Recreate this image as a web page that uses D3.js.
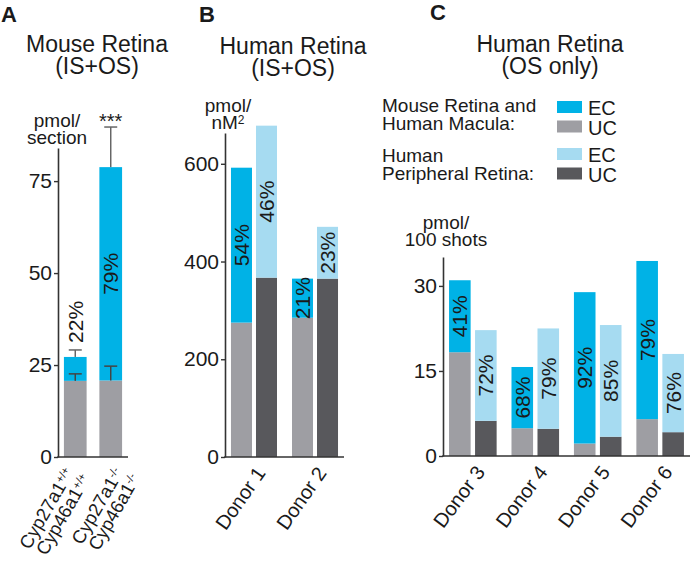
<!DOCTYPE html>
<html><head><meta charset="utf-8">
<script src="https://cdn.jsdelivr.net/npm/d3@7"></script>
<style>
body{margin:0;background:#fff}
svg text{font-family:"Liberation Sans",Arial,Helvetica,sans-serif;fill:#1a1a1a}
</style>
</head><body>
<svg id="c" width="693" height="563"></svg>
<script>
// ---------- Data ----------
// Panel A: Mouse Retina (IS+OS), pmol/section
const aGeneLine1 = ["Cyp27a1", "Cyp27a1"];
const aGeneLine2 = ["Cyp46a1", "Cyp46a1"];
const aGenotype = ["+/+", "-/-"];
const aUC = [20.7, 20.8];
const aTotal = [27.2, 78.8];
const aUCerr = [1.9, 3.9];
const aTotalErr = [1.9, 10.9];
const aPct = ["22%", "79%"];
const aTicks = [0, 25, 50, 75];

// Panel B: Human Retina (IS+OS), pmol/nM2
const bDonors = ["Donor 1", "Donor 2"];
const bMacTotal = [592, 365];
const bMacUC = [275, 285];
const bPerTotal = [678, 471];
const bPerUC = [367, 365];
const bMacPct = ["54%", "21%"];
const bPerPct = ["46%", "23%"];
const bTicks = [0, 200, 400, 600];

// Panel C: Human Retina (OS only), pmol/100 shots
const cDonors = ["Donor 3", "Donor 4", "Donor 5", "Donor 6"];
const cMacTotal = [31.0, 15.7, 28.9, 34.4];
const cMacUC = [18.3, 4.9, 2.2, 6.5];
const cPerTotal = [22.2, 22.5, 23.1, 18.0];
const cPerUC = [6.2, 4.8, 3.4, 4.2];
const cMacPct = ["41%", "68%", "92%", "79%"];
const cPerPct = ["72%", "79%", "85%", "76%"];
const cTicks = [0, 15, 30];

const legendGroups = ["Mouse Retina and|Human Macula:", "Human|Peripheral Retina:"];
const legendKeys = ["EC", "UC"];

// ---------- Style ----------
const COL = {ecMac: "#00b2e6", ucMac: "#9e9ea3", ecPer: "#a6dbf1", ucPer: "#58585c"};
const AXIS = "#333";

const svg = d3.select("#c");

function yAxis(x, scale, ticks) {
  const g = svg.append("g").attr("transform", `translate(${x},0)`)
    .call(d3.axisLeft(scale).tickValues(ticks).tickSize(4).tickSizeOuter(0).tickPadding(2));
  g.attr("font-family", null).attr("font-size", null);
  g.select(".domain").attr("stroke", AXIS).attr("stroke-width", 1.6);
  g.selectAll(".tick line").attr("stroke", AXIS).attr("stroke-width", 1.4);
  g.selectAll(".tick text").style("font-size", "21px").attr("fill", "#1a1a1a");
  return g;
}
function xBase(x0, x1, y) {
  svg.append("line").attr("x1", x0 - 0.8).attr("x2", x1).attr("y1", y).attr("y2", y)
    .attr("stroke", AXIS).attr("stroke-width", 1.6);
}
function stack(x, w, y, uc, total, ecC, ucC) {
  svg.append("rect").attr("x", x).attr("width", w).attr("y", y(uc)).attr("height", y(0) - y(uc)).attr("fill", ucC);
  svg.append("rect").attr("x", x).attr("width", w).attr("y", y(total)).attr("height", y(uc) - y(total)).attr("fill", ecC);
}
function pctLabel(cx, y, uc, total, txt, aboveY) {
  const top = y(total), bot = y(uc);
  const t = svg.append("text").text(txt).style("font-size", "21px");
  if (aboveY !== undefined) {
    t.attr("text-anchor", "start").attr("dominant-baseline", "central")
      .attr("transform", `translate(${cx},${aboveY - 7}) rotate(-90)`);
  } else {
    t.attr("text-anchor", "middle").attr("dominant-baseline", "central")
      .attr("transform", `translate(${cx},${(top + bot) / 2}) rotate(-90)`);
  }
}
function title(cx, y, lines, size) {
  lines.forEach((l, i) => svg.append("text").attr("x", cx).attr("y", y + i * 21.5)
    .attr("text-anchor", "middle").style("font-size", size + "px").text(l));
}
function unit(cx, y, lines) {
  lines.forEach((l, i) => {
    const t = svg.append("text").attr("x", cx).attr("y", y + i * 17).attr("text-anchor", "middle").style("font-size", "19px");
    if (l === "nM2") { t.text("nM"); t.append("tspan").attr("dy", "-0.45em").style("font-size", "12px").text("2"); }
    else t.text(l);
  });
}
function letter(x, y, s) {
  svg.append("text").attr("x", x).attr("y", y).style("font-size", "22px").style("font-weight", "bold").attr("fill", "#000").text(s);
}

// ---------- Panel A ----------
letter(1, 22, "A");
title(97, 52, ["Mouse Retina", "(IS+OS)"], 23);
unit(57, 127, ["pmol/", "section"]);
const ax = d3.scaleBand().domain(d3.range(aTotal.length)).range([58, 128]).paddingInner(0.36).paddingOuter(0.167);
const ay = d3.scaleLinear().domain([0, 84]).range([457, 148]);
aTotal.forEach((tot, i) => {
  const x = ax(i), w = ax.bandwidth(), cx = x + w / 2;
  stack(x, w, ay, aUC[i], tot, COL.ecMac, COL.ucMac);
  // error bars
  [[aUC[i], aUCerr[i], "#444"], [tot, aTotalErr[i], "#666"]].forEach(([v, e, c]) => {
    svg.append("line").attr("x1", cx).attr("x2", cx).attr("y1", ay(v)).attr("y2", ay(v + e)).attr("stroke", c).attr("stroke-width", 1.5);
    svg.append("line").attr("x1", cx - 6.5).attr("x2", cx + 6.5).attr("y1", ay(v + e)).attr("y2", ay(v + e)).attr("stroke", c).attr("stroke-width", 1.5);
  });
  const small = ay(aUC[i]) - ay(tot) < 30;
  pctLabel(cx, ay, aUC[i], tot, aPct[i], small ? ay(tot + aTotalErr[i]) : undefined);
});
// significance
svg.append("text").attr("x", ax(1) + ax.bandwidth() / 2).attr("y", ay(aTotal[1] + aTotalErr[1]) + 1)
  .attr("text-anchor", "middle").style("font-size", "20px").text("***");
yAxis(58, ay, aTicks);
xBase(58, 128, ay(0));
aGeneLine1.forEach((l1, i) => {
  const cx = ax(i) + ax.bandwidth() / 2;
  const g = svg.append("g").attr("transform", `translate(${cx - 12 + i * 14},${ay(0) + 9}) rotate(-60)`);
  [l1, aGeneLine2[i]].forEach((l, j) => {
    const t = g.append("text").attr("x", j * 3).attr("y", 13 + j * 17.5).attr("text-anchor", "end").style("font-size", "18.5px").text(l);
    t.append("tspan").attr("dy", "-0.5em").style("font-size", "11px").text(aGenotype[i]);
  });
});

// ---------- Panel B ----------
letter(199, 22, "B");
title(293, 54, ["Human Retina", "(IS+OS)"], 23);
unit(228, 112, ["pmol/", "nM2"]);
const bx = d3.scaleBand().domain(bDonors).range([225, 344]).paddingInner(0.246).paddingOuter(0.098);
const bsub = d3.scaleBand().domain(["mac", "per"]).range([0, bx.bandwidth()]).paddingInner(0.16);
const by = d3.scaleLinear().domain([0, 663]).range([457, 133]);
bDonors.forEach((d, i) => {
  const xm = bx(d) + bsub("mac"), xp = bx(d) + bsub("per"), w = bsub.bandwidth();
  stack(xm, w, by, bMacUC[i], bMacTotal[i], COL.ecMac, COL.ucMac);
  stack(xp, w, by, bPerUC[i], bPerTotal[i], COL.ecPer, COL.ucPer);
  pctLabel(xm + w / 2, by, bMacUC[i], bMacTotal[i], bMacPct[i]);
  pctLabel(xp + w / 2, by, bPerUC[i], bPerTotal[i], bPerPct[i]);
  svg.append("g").attr("transform", `translate(${bx(d) + bx.bandwidth() / 2 + 1},${by(0) + 8}) rotate(-55)`)
    .append("text").attr("y", 14).attr("text-anchor", "end").style("font-size", "20px").text(d);
});
yAxis(225, by, bTicks);
xBase(225, 344, by(0));

// ---------- Panel C ----------
letter(430, 20, "C");
title(550, 52, ["Human Retina", "(OS only)"], 23);
// legend
legendGroups.forEach((grp, gi) => {
  grp.split("|").forEach((l, li) => svg.append("text").attr("x", 382).attr("y", 112 + gi * 50 + li * 18)
    .style("font-size", "19px").text(l));
  legendKeys.forEach((k, ki) => {
    const c = gi === 0 ? (ki === 0 ? COL.ecMac : COL.ucMac) : (ki === 0 ? COL.ecPer : COL.ucPer);
    const yy = 101 + gi * 47 + ki * 19.5;
    svg.append("rect").attr("x", 557).attr("y", yy).attr("width", 25).attr("height", 12).attr("fill", c);
    svg.append("text").attr("x", 588).attr("y", yy + 14).style("font-size", "20px").text(k);
  });
});
unit(446, 229, ["pmol/", "100 shots"]);
const cx_ = d3.scaleBand().domain(cDonors).range([443, 690]).paddingInner(0.238).paddingOuter(0.097);
const csub = d3.scaleBand().domain(["mac", "per"]).range([0, cx_.bandwidth()]).paddingInner(0.17);
const cy = d3.scaleLinear().domain([0, 35.1]).range([456, 257]);
cDonors.forEach((d, i) => {
  const xm = cx_(d) + csub("mac"), xp = cx_(d) + csub("per"), w = csub.bandwidth();
  stack(xm, w, cy, cMacUC[i], cMacTotal[i], COL.ecMac, COL.ucMac);
  stack(xp, w, cy, cPerUC[i], cPerTotal[i], COL.ecPer, COL.ucPer);
  pctLabel(xm + w / 2, cy, cMacUC[i], cMacTotal[i], cMacPct[i]);
  pctLabel(xp + w / 2, cy, cPerUC[i], cPerTotal[i], cPerPct[i]);
  svg.append("g").attr("transform", `translate(${cx_(d) + cx_.bandwidth() / 2 + 2},${cy(0) + 8}) rotate(-53)`)
    .append("text").attr("y", 14).attr("text-anchor", "end").style("font-size", "20px").text(d);
});
yAxis(443, cy, cTicks);
xBase(443, 690, cy(0));
</script>
</body></html>
